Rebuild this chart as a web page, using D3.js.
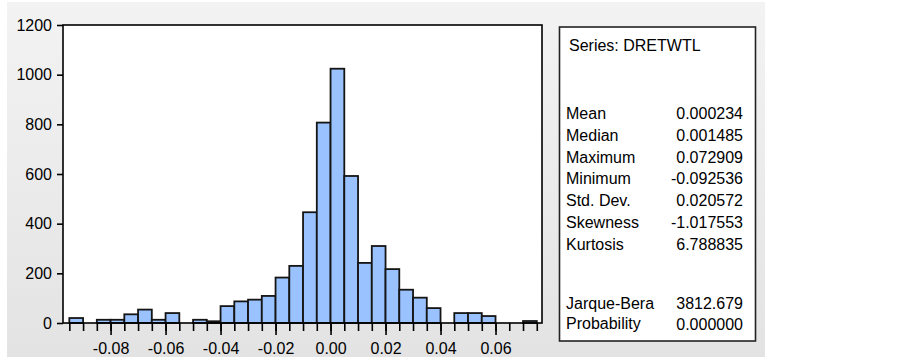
<!DOCTYPE html>
<html lang="en">
<head>
    <meta charset="UTF-8">
    <title>Histogram DRETWTL</title>
    <script src="https://d3js.org/d3.v7.min.js"></script>
</head>
<body style="margin:0;background:#fff;">
    <style>
        .chart { width: 903px; height: 360px; }
        .chart text { font-family: "Liberation Sans", Arial, sans-serif; fill: #000; font-size: 16px; }
    </style>
    <div class="chart"></div>

    <script>
  // bin lower edges (width 0.005) and counts
  const binStarts = [-0.095, -0.090, -0.085, -0.080, -0.075, -0.070, -0.065, -0.060, -0.055, -0.050,
                     -0.045, -0.040, -0.035, -0.030, -0.025, -0.020, -0.015, -0.010, -0.005, 0.000,
                      0.005, 0.010, 0.015, 0.020, 0.025, 0.030, 0.035, 0.040, 0.045, 0.050,
                      0.055, 0.060, 0.065, 0.070]
  const counts = [20, 0, 13, 13, 35, 54, 13, 40, 0, 13,
                  7, 68, 87, 94, 109, 183, 230, 446, 807, 1024,
                  592, 242, 310, 217, 134, 102, 60, 0, 40, 40,
                  28, 0, 0, 8]
  const binWidth = 0.005

  const xTickLabels = [-0.08, -0.06, -0.04, -0.02, 0.00, 0.02, 0.04, 0.06]
  const yTickLabels = [0, 200, 400, 600, 800, 1000, 1200]

  const statNames = ["Mean", "Median", "Maximum", "Minimum", "Std. Dev.", "Skewness", "Kurtosis"]
  const statValues = ["0.000234", "0.001485", "0.072909", "-0.092536", "0.020572", "-1.017553", "6.788835"]
  const testNames = ["Jarque-Bera", "Probability"]
  const testValues = ["3812.679", "0.000000"]
  const seriesName = "Series: DRETWTL"

  const svg = d3.select(".chart").append("svg")
      .attr("width", 903)
      .attr("height", 360)

  // grey background panel
  const defs = svg.append("defs")
  const grad = defs.append("linearGradient")
      .attr("id", "bg").attr("x1", 0).attr("y1", 0).attr("x2", 0).attr("y2", 1)
  grad.append("stop").attr("offset", "0%").attr("stop-color", "#f3f3f3")
  grad.append("stop").attr("offset", "100%").attr("stop-color", "#e3e3e3")

  svg.append("rect")
      .attr("x", 7).attr("y", 2)
      .attr("width", 758).attr("height", 355)
      .attr("fill", "url(#bg)")

  // plot area
  const plot = {left: 63, top: 25, right: 542, bottom: 323}

  const x = d3.scaleLinear()
      .domain([-0.0973, 0.0769])
      .range([plot.left, plot.right])

  const y = d3.scaleLinear()
      .domain([0, 1200])
      .range([plot.bottom, plot.top])

  svg.append("rect")
      .attr("x", plot.left).attr("y", plot.top)
      .attr("width", plot.right - plot.left)
      .attr("height", plot.bottom - plot.top)
      .attr("fill", "#fff")

  // bars
  const bins = binStarts.map((b, i) => ({x0: b, x1: b + binWidth, n: counts[i]}))
  svg.append("g")
    .selectAll("rect")
    .data(bins.filter(d => d.n > 0))
    .join("rect")
      .attr("x", d => x(d.x0))
      .attr("y", d => y(d.n))
      .attr("width", d => x(d.x1) - x(d.x0))
      .attr("height", d => y(0) - y(d.n))
      .attr("fill", "#99c2ff")
      .attr("stroke", "#151515")
      .attr("stroke-width", 1.8)

  // frame
  svg.append("rect")
      .attr("x", plot.left).attr("y", plot.top)
      .attr("width", plot.right - plot.left)
      .attr("height", plot.bottom - plot.top)
      .attr("fill", "none")
      .attr("stroke", "#000")
      .attr("stroke-width", 1.6)

  // x axis: minor ticks at every bin edge, longer labelled ticks
  const edges = binStarts.concat([binStarts[binStarts.length - 1] + binWidth])
  const xMinor = d3.axisBottom(x)
      .tickValues(edges)
      .tickSize(8)
      .tickFormat("")
  svg.append("g")
      .attr("transform", `translate(0, ${plot.bottom})`)
      .call(xMinor)
      .call(g => g.select(".domain").remove())
      .call(g => g.selectAll("line").attr("stroke", "#000").attr("stroke-width", 1.6))

  const xMajor = d3.axisBottom(x)
      .tickValues(xTickLabels)
      .tickSize(12)
      .tickPadding(8)
      .tickFormat(d => d.toFixed(2))
  svg.append("g")
      .attr("transform", `translate(0, ${plot.bottom})`)
      .call(xMajor)
      .call(g => g.select(".domain").remove())
      .call(g => g.selectAll("line").attr("stroke", "#000").attr("stroke-width", 1.6))
      .call(g => g.selectAll("text").style("font-size", "16px"))

  // y axis
  const yAxis = d3.axisLeft(y)
      .tickValues(yTickLabels)
      .tickSize(6)
      .tickPadding(5)
      .tickFormat(d => d)
  svg.append("g")
      .attr("transform", `translate(${plot.left}, 0)`)
      .call(yAxis)
      .call(g => g.select(".domain").remove())
      .call(g => g.selectAll("line").attr("stroke", "#000").attr("stroke-width", 1.6))
      .call(g => g.selectAll("text").style("font-size", "16px"))

  // statistics box
  const box = svg.append("g")
  box.append("rect")
      .attr("x", 559.5).attr("y", 27)
      .attr("width", 196).attr("height", 314)
      .attr("fill", "#fff")
      .attr("stroke", "#222")
      .attr("stroke-width", 1.6)

  box.append("text")
      .attr("x", 569).attr("y", 50.5)
      .text(seriesName)

  statNames.forEach((name, i) => {
    const yy = 119 + i * 21.8
    box.append("text").attr("x", 566).attr("y", yy).text(name)
    box.append("text").attr("x", 743).attr("y", yy)
        .attr("text-anchor", "end")
        .text(statValues[i])
  })

  testNames.forEach((name, i) => {
    const yy = 308.5 + i * 21
    box.append("text").attr("x", 566).attr("y", yy - (i === 1 ? 1 : 0)).text(name)
    box.append("text").attr("x", 743).attr("y", yy + 0.5)
        .attr("text-anchor", "end")
        .text(testValues[i])
  })
    </script>
</body>
</html>
